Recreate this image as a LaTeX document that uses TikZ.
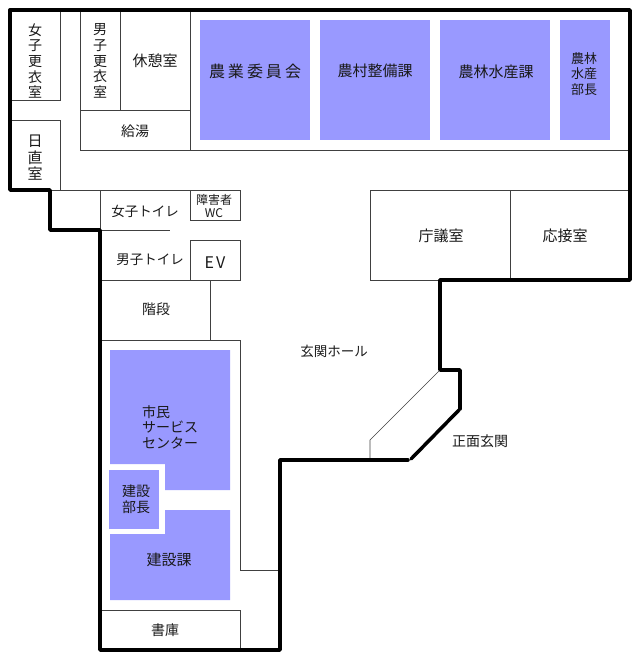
\documentclass[tikz,border=0pt]{standalone}
\usepackage{fontspec}
\setmainfont{Noto Sans CJK JP}

\definecolor{officeblue}{RGB}{153,153,255}
\tikzset{
  wall/.style={line width=3.5pt, line join=round, line cap=round},
  partition/.style={draw=black!75, line width=0.9pt},
  office/.style={fill=officeblue},
  room/.style={font=\fontsize{14}{15.6}\selectfont, align=center, inner sep=0pt, text=black!90},
  bigroom/.style={room, font=\fontsize{15}{16}\selectfont},
  smallroom/.style={room, font=\fontsize{12}{13}\selectfont}
}

\begin{document}
\begin{tikzpicture}[x=1pt, y=-1pt]
  \useasboundingbox (0, 0) rectangle (639, 670);

  \fill[office] (200, 20) rectangle (310, 140);
  \fill[office] (320, 20) rectangle (430, 140);
  \fill[office] (440, 20) rectangle (550, 140);
  \fill[office] (560, 20) rectangle (610, 140);
  \fill[office] (110, 350) -- (230, 350) -- (230, 490) -- (165, 490) -- (165, 464) -- (110, 464) -- cycle;
  \fill[office] (109, 470) rectangle (159, 529);
  \fill[office] (110, 534) -- (165, 534) -- (165, 510) -- (230, 510) -- (230, 600) -- (110, 600) -- cycle;

  \draw[partition] (10, 100) -- (60, 100) -- (60, 10);
  \draw[partition] (10, 120) -- (60, 120) -- (60, 190);
  \draw[partition] (80, 10) -- (80, 150) -- (630, 150);
  \draw[partition] (120, 10) -- (120, 110);
  \draw[partition] (80, 110) -- (190, 110);
  \draw[partition] (190, 10) -- (190, 150);

  \draw[partition] (50, 190) -- (240, 190) -- (240, 220) -- (190, 220) -- (190, 190);
  \draw[partition] (100, 190) -- (100, 230) -- (170, 230);
  \draw[partition] (100, 280) -- (240, 280) -- (240, 240) -- (190, 240) -- (190, 280);
  \draw[partition] (210, 280) -- (210, 340);
  \draw[partition] (100, 340) -- (240, 340) -- (240, 570) -- (280, 570);
  \draw[partition] (100, 610) -- (240, 610) -- (240, 650);

  \draw[partition] (440, 280) -- (370, 280) -- (370, 190) -- (630, 190);
  \draw[partition] (510, 190) -- (510, 280);
  \draw[draw=black!75, line width=0.6pt] (370, 460) -- (370, 440) -- (440, 370);

  \draw[wall] (10, 10) -- (630, 10) -- (630, 280) -- (440, 280) -- (440, 370) -- (460, 370) -- (460, 409);
  \draw[wall] (459, 410) -- (411, 459);
  \draw[wall] (408, 460) -- (280, 460) -- (280, 650) -- (100, 650) -- (100, 230) -- (50, 230) -- (50, 190)
    -- (10, 190) -- (10, 10);

  \node[room] (joshikoi) at (35, 61) {女\\子\\更\\衣\\室};
  \node[room] (danshikoi) at (100, 61) {男\\子\\更\\衣\\室};
  \node[bigroom] (kyukei) at (155, 61) {休憩室};
  \node[room] (kyuto) at (135, 131) {給湯};
  \node[bigroom, font=\fontsize{15}{16.5}\selectfont] (nitchoku) at (35, 158) {日\\直\\室};

  \node[bigroom, font=\fontsize{16}{17}\selectfont] (nogyoi) at (255, 71) {農\hspace{3pt}業\hspace{3pt}委\hspace{3pt}員\hspace{3pt}会};
  \node[bigroom] (noson) at (375, 71) {農村整備課};
  \node[bigroom] (norin) at (496, 72) {農林水産課};
  \node[room, font=\fontsize{13}{15.5}\selectfont] (bucho) at (584, 74) {農林\\水産\\部長};

  \node[bigroom] (chogi) at (441, 236) {庁議室};
  \node[bigroom] (osetsu) at (565, 236) {応接室};
  \node[room, font=\fontsize{13.5}{15}\selectfont] (joshitoilet) at (145, 211) {女子トイレ};
  \node[smallroom] (shogai) at (214, 206) {障害者\\WC};
  \node[room, font=\fontsize{13.5}{15}\selectfont] (danshitoilet) at (150, 260) {男子トイレ};
  \node[bigroom, font=\fontsize{16}{17}\selectfont] (ev) at (215, 263) {E\hspace{2pt}V};
  \node[room] (kaidan) at (156, 309) {階段};
  \node[room, font=\fontsize{13.5}{15}\selectfont] (genkanhall) at (334, 351) {玄関ホール};
  \node[room] (shomen) at (480, 441) {正面玄関};

  \node[room, align=left, anchor=west] (shimin) at (142, 427) {市民\\サービス\\センター};
  \node[room] (kensetsubu) at (136, 499) {建設\\部長};
  \node[bigroom] (kensetsu) at (169, 560) {建設課};
  \node[room] (shoko) at (165, 630) {書庫};
\end{tikzpicture}
\end{document}
